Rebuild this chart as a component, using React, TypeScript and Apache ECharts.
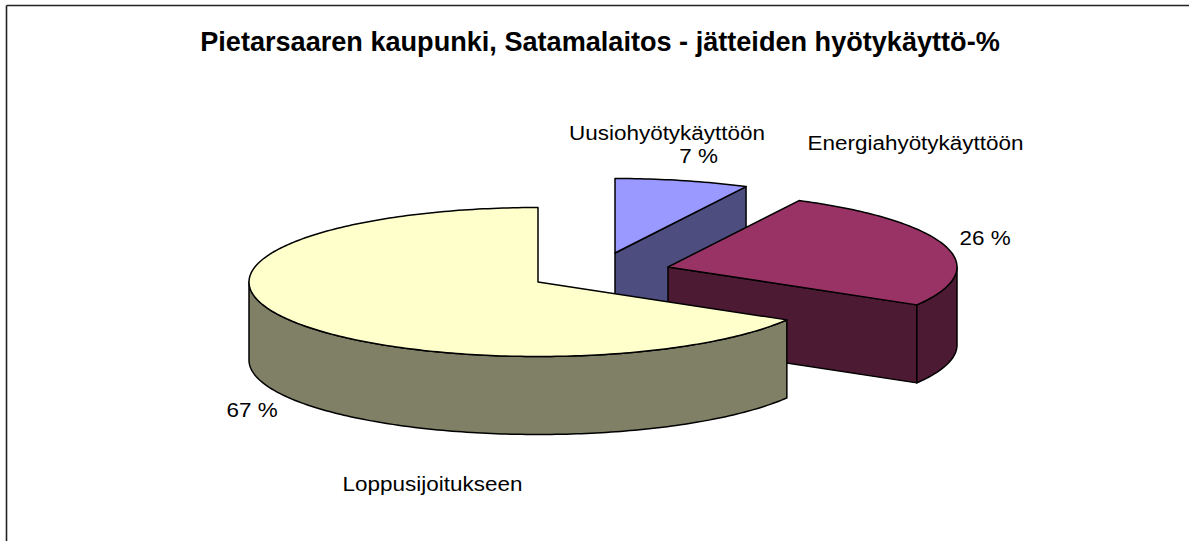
import React, { useEffect, useRef } from "react";
import * as echarts from "echarts";

const titleText = "Pietarsaaren kaupunki, Satamalaitos - jätteiden hyötykäyttö-%";
const categories = ["Uusiohyötykäyttöön", "Energiahyötykäyttöön", "Loppusijoitukseen"];
const shares = [7.49, 26.0, 66.51];
const topColors = ["#9999FF", "#993366", "#FFFFCC"];
const sideColors = ["#4D4D80", "#4D1A33", "#808066"];

const FONT = "'Liberation Sans', Arial, sans-serif";
const RX = 289;
const RY = 74.5;
const DEPTH = 78;
const BASE = { x: 538, y: 282 };
const offsets = [
  { x: 77, y: -29 },
  { x: 130, y: -15 },
  { x: 0, y: 0 },
];
const nameAt = [
  { x: 667, y: 133 },
  { x: 915.5, y: 143 },
  { x: 432.5, y: 484 },
];
const pctAt = [
  { x: 698.5, y: 156 },
  { x: 985, y: 238 },
  { x: 252, y: 410 },
];
const TEXT_SCALE_X = 1.07;

const total = shares.reduce((a, b) => a + b, 0);

function rim(cx: number, cy: number, a0: number, a1: number) {
  const pts: number[][] = [];
  const n = Math.max(1, Math.ceil(Math.abs(a1 - a0)));
  for (let i = 0; i <= n; i++) {
    const t = ((a0 + ((a1 - a0) * i) / n) * Math.PI) / 180;
    pts.push([cx + RX * Math.sin(t), cy - RY * Math.cos(t)]);
  }
  return pts;
}

function renderSlice(params: any, api: any) {
  const i = params.dataIndex;
  let before = 0;
  for (let k = 0; k < i; k++) before += shares[k];
  const a0 = (before / total) * 360;
  const a1 = a0 + (api.value(0) / total) * 360;
  const cx = BASE.x + offsets[i].x;
  const cy = BASE.y + offsets[i].y;
  const lineStyle = { stroke: "#000", lineWidth: 1.5, lineJoin: "round" };
  const children: any[] = [];
  const sideStyle = { ...lineStyle, fill: sideColors[i] };

  // radial cut wall at the end edge, seen only when it faces the viewer
  const endRad = (a1 * Math.PI) / 180;
  if (Math.sin(endRad) > 0.001) {
    const ex = cx + RX * Math.sin(endRad);
    const ey = cy - RY * Math.cos(endRad);
    children.push({
      type: "polygon",
      shape: { points: [[cx, cy], [ex, ey], [ex, ey + DEPTH], [cx, cy + DEPTH]] },
      style: sideStyle,
    });
  }
  // outer wall, front half of the ellipse only
  const v0 = Math.max(a0, 90);
  const v1 = Math.min(a1, 270);
  if (v1 > v0) {
    const upper = rim(cx, cy, v0, v1);
    const lower = rim(cx, cy + DEPTH, v1, v0);
    children.push({
      type: "polygon",
      shape: { points: upper.concat(lower) },
      style: sideStyle,
    });
  }
  // top face
  children.push({
    type: "polygon",
    shape: { points: [[cx, cy] as number[]].concat(rim(cx, cy, a0, a1)) },
    style: { ...lineStyle, fill: topColors[i] },
  });
  return { type: "group", children };
}

export default function App() {
  const ref = useRef<HTMLDivElement>(null);
  useEffect(() => {
    const chart = echarts.init(ref.current!, undefined, { renderer: "svg" });
    const labels: any[] = [];
    categories.forEach((name, i) => {
      labels.push({
        type: "text",
        x: nameAt[i].x,
        y: nameAt[i].y,
        scaleX: TEXT_SCALE_X,
        style: { text: name, font: `21px ${FONT}`, fill: "#000", align: "center", verticalAlign: "middle" },
      });
      labels.push({
        type: "text",
        x: pctAt[i].x,
        y: pctAt[i].y,
        scaleX: TEXT_SCALE_X,
        style: { text: `${Math.round(shares[i])} %`, font: `21px ${FONT}`, fill: "#000", align: "center", verticalAlign: "middle" },
      });
    });
    chart.setOption({
      animation: false,
      backgroundColor: "#fff",
      title: {
        text: titleText,
        left: 595,
        top: 22.5,
        textAlign: "center",
        textStyle: { fontFamily: FONT, fontWeight: "bold", fontSize: 27.1, color: "#000" },
      },
      graphic: [
        { type: "line", shape: { x1: 6.5, y1: 5.5, x2: 1189, y2: 5.5 }, style: { stroke: "#222", lineWidth: 1.6 } },
        { type: "line", shape: { x1: 6.5, y1: 5.5, x2: 6.5, y2: 541 }, style: { stroke: "#222", lineWidth: 1.6 } },
        ...labels,
      ],
      series: [
        {
          type: "custom",
          coordinateSystem: "none",
          renderItem: renderSlice,
          data: shares.map((v) => [v]),
          silent: true,
        },
      ],
    });
    return () => chart.dispose();
  }, []);
  return <div ref={ref} style={{ position: "absolute", left: 0, top: 0, width: 1189, height: 541 }} />;
}
